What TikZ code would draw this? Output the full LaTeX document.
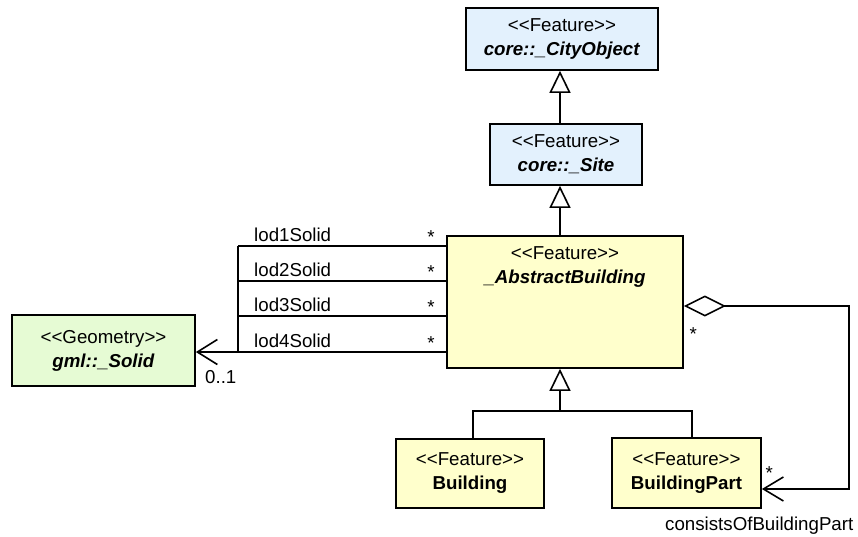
\documentclass[tikz,border=0pt]{standalone}
\usepackage{fontspec}
\setmainfont{Liberation Sans}
\usetikzlibrary{arrows.meta}

\definecolor{featureblue}{RGB}{227,241,253}
\definecolor{featureyellow}{RGB}{255,255,204}
\definecolor{geometrygreen}{RGB}{230,251,212}

\newcommand{\stereo}[1]{<\kern0pt<#1>\kern0pt>}

\tikzset{
    umltext/.style={inner sep=0pt, align=center, font=\fontsize{18.7}{24}\selectfont},
    umlbox/.style={umltext, draw, line width=1.7pt},
    corebox/.style={umlbox, fill=featureblue},
    buildingbox/.style={umlbox, fill=featureyellow},
    gmlbox/.style={umlbox, fill=geometrygreen},
    umlline/.style={line width=1.6pt},
    generalization/.style={umlline, -{Triangle[open, length=22pt, width=21pt]}},
    association/.style={umlline, -{Straight Barb[length=20pt, width=25pt]}},
    aggregation/.style={umlline, {Diamond[open, length=42pt, width=21pt]}-{Straight Barb[length=20pt, width=24pt]}}
}

\begin{document}
\begin{tikzpicture}[x=1pt, y=-1pt]
    \useasboundingbox (0,0) rectangle (858,536);

    % classes
    \node[corebox, minimum width=192pt, minimum height=62pt] (cityobject) at (562,39) {\stereo{Feature}\\\textbf{\textit{core::\_CityObject}}};
    \node[corebox, minimum width=152pt, minimum height=61pt] (site) at (566,154.5) {\stereo{Feature}\\\textbf{\textit{core::\_Site}}};
    \node[buildingbox, minimum width=236pt, minimum height=132pt,
          label={[umltext, anchor=north, yshift=-11pt]north:\stereo{Feature}\\\textbf{\textit{\_AbstractBuilding}}}] (abstractbuilding) at (565,302) {};
    \node[buildingbox, minimum width=148pt, minimum height=69pt] (building) at (470,473.5) {\stereo{Feature}\\\textbf{Building}};
    \node[buildingbox, minimum width=149pt, minimum height=70pt] (buildingpart) at (686.5,473) {\stereo{Feature}\\\textbf{BuildingPart}};
    \node[gmlbox, minimum width=183pt, minimum height=71pt] (solid) at (103.5,350.5) {\stereo{Geometry}\\\textbf{\textit{gml::\_Solid}}};

    % generalizations
    \coordinate (stem) at (560,0);
    \coordinate (bus) at (560,411);
    \draw[generalization] (site.north -| stem) -- (cityobject.south -| stem);
    \draw[generalization] (abstractbuilding.north -| stem) -- (site.south -| stem);
    \draw[generalization] (bus) -- (abstractbuilding.south -| stem);
    \draw[umlline] ([xshift=3pt]building.north) |- (bus) -| ([xshift=5.5pt]buildingpart.north);

    % lod associations
    \coordinate (junction) at (238,352);
    \foreach \i/\y in {1/246, 2/281, 3/316, 4/352}{
        \draw[umlline] (abstractbuilding.west |- 0,\y) -- (junction |- 0,\y);
        \node[umltext, anchor=base west] (lod\i) at (254,\y-4.5) {lod\i Solid};
        \node[umltext, anchor=base] (lodmult\i) at (431,\y-3) {*};
    }
    \draw[umlline] (junction |- 0,246) -- (junction);
    \draw[association] (junction) -- (solid.east |- junction);
    \node[umltext, anchor=base west] (solidmult) at (205,383) {0..1};

    % consistsOfBuildingPart
    \coordinate (aggright) at (849,306);
    \coordinate (aggbottom) at (849,489);
    \draw[aggregation] (abstractbuilding.east |- aggright) -- (aggright) -- (aggbottom) -- (buildingpart.east |- aggbottom);
    \node[umltext, anchor=base west] (aggmult) at (689.5,340) {*};
    \node[umltext, anchor=base west] (partmult) at (765.5,479) {*};
    \node[umltext, anchor=base west] (partrole) at (665,530) {consistsOfBuildingPart};
\end{tikzpicture}
\end{document}
